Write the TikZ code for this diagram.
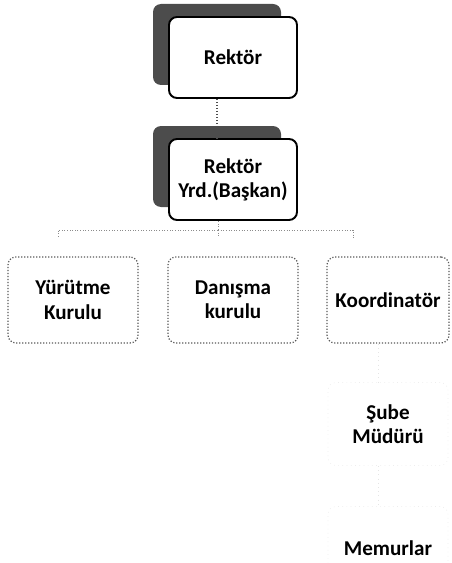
\documentclass[tikz,border=0pt]{standalone}
\usepackage{fontspec}
\setmainfont{Carlito}
\usetikzlibrary{positioning, shadows}

\begin{document}
\begin{tikzpicture}
    [
        node distance=2.44cm and 3.2cm, on grid, font=\fontsize{12}{13.8}\selectfont\bfseries,
        top_node/.style={rectangle, rounded corners=0.16cm, draw=black, fill=white, line width=1.1pt, minimum width=2.56cm, minimum height=1.62cm, align=center, drop shadow={shadow xshift=-0.32cm, shadow yshift=0.26cm, fill=black!70, opacity=1}},
        unit_node/.style={rectangle, rounded corners=0.16cm, draw=black!65, densely dotted, line width=0.7pt, minimum width=2.6cm, minimum height=1.72cm, align=center},
        faint_node/.style={rectangle, rounded corners=0.16cm, draw=black!7, dotted, minimum width=2.4cm, minimum height=1.66cm, align=center},
        tree_line/.style={draw=black!45, densely dotted, line width=0.5pt},
    ]
        \useasboundingbox (0,0) rectangle (9.02,-11.26);
        \node[top_node] (rektor) at (4.66,-1.15) {Rektör};
        \node[top_node] (yrd) [below = of rektor] {Rektör\\Yrd.(Başkan)};
        \node[unit_node] (danisma) [below = 2.41cm of yrd] {Danışma\\kurulu};
        \node[unit_node] (yurutme) [left = of danisma] {Yürütme\\Kurulu};
        \node[unit_node, minimum width=2.44cm] (koord) [right = 3.1cm of danisma] {Koordinatör};
        \node[faint_node] (sube) [below = 2.48cm of koord] {Şube\\Müdürü};
        \node[faint_node] (memur) [below = 2.48cm of sube] {Memurlar};
        \coordinate (bus) at ([xshift=-0.3cm, yshift=-0.18cm]yrd.south);
        \draw[draw=black!70, densely dotted, line width=0.7pt] ([xshift=-0.32cm]rektor.south) -- ([xshift=-0.32cm]yrd.north);
        \draw[tree_line] ([xshift=-0.3cm]yrd.south) -- (bus);
        \draw[tree_line] (bus) -| ([xshift=-0.3cm, yshift=0.38cm]yurutme.north);
        \draw[tree_line] (bus) -| ([xshift=-0.7cm, yshift=0.38cm]koord.north);
        \draw[tree_line] (bus) -- ([xshift=-0.3cm, yshift=0.38cm]danisma.north);
        \draw[draw=black!10, dotted] ([xshift=-0.2cm]koord.south) -- ([xshift=-0.2cm]sube.north);
        \draw[draw=black!10, dotted] ([xshift=-0.2cm]sube.south) -- ([xshift=-0.2cm]memur.north);
    \end{tikzpicture}
\end{document}
